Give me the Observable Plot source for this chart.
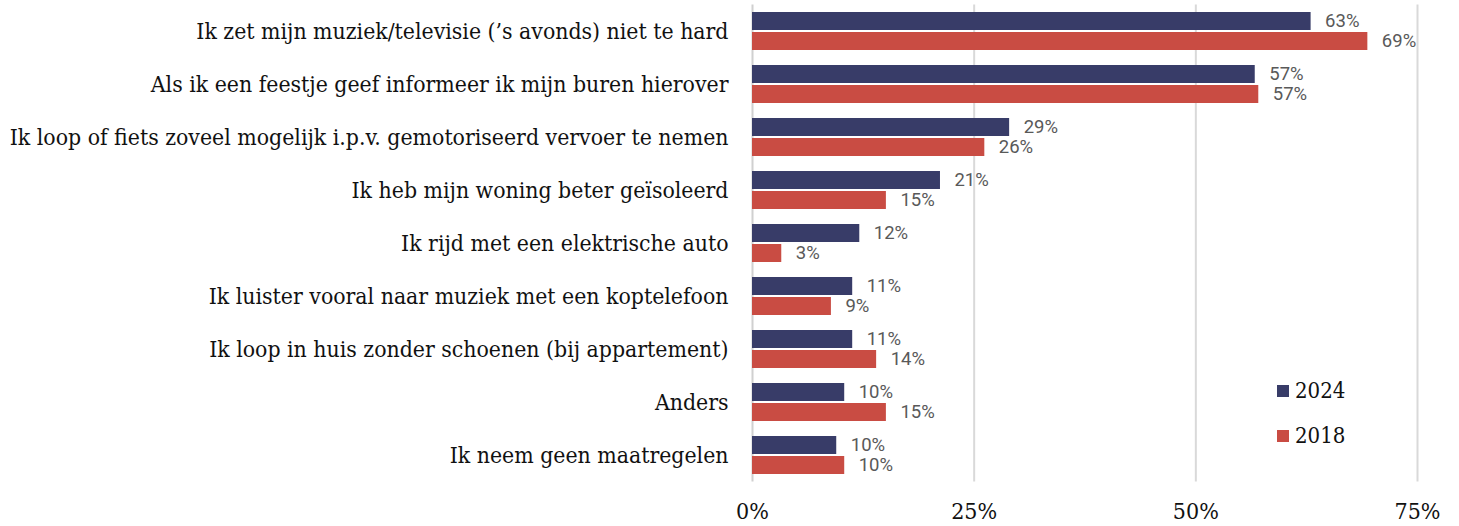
<!DOCTYPE html>
<html>
<head>
<meta charset="utf-8">
<script src="https://cdn.jsdelivr.net/npm/d3@7"></script>
<script src="https://cdn.jsdelivr.net/npm/@observablehq/plot@0.6"></script>
<style>
  html, body { margin: 0; padding: 0; background: #fff; }
  #wrap { position: relative; width: 1459px; height: 526px; }
  .legend { position: absolute; left: 1277px; font-family: "DejaVu Serif Condensed", "DejaVu Serif", serif; font-size: 22px; color: #111; display: flex; align-items: center; }
  .legend .sw { width: 12px; height: 12px; margin-right: 6px; }
</style>
</head>
<body>
<div id="wrap"></div>
<script>
const categories = [
  "Ik zet mijn muziek/televisie (’s avonds) niet te hard",
  "Als ik een feestje geef informeer ik mijn buren hierover",
  "Ik loop of fiets zoveel mogelijk i.p.v. gemotoriseerd vervoer te nemen",
  "Ik heb mijn woning beter geïsoleerd",
  "Ik rijd met een elektrische auto",
  "Ik luister vooral naar muziek met een koptelefoon",
  "Ik loop in huis zonder schoenen (bij appartement)",
  "Anders",
  "Ik neem geen maatregelen"
];
const values2024 = [63.0, 56.7, 29.0, 21.2, 12.1, 11.3, 11.3, 10.4, 9.5];
const values2018 = [69.4, 57.1, 26.2, 15.1, 3.3, 8.9, 14.0, 15.1, 10.4];
const seriesNames = ["2024", "2018"];
const seriesColors = ["#383c68", "#c94c43"];
const xTicks = [0, 25, 50, 75];

const data = categories.map((c, i) => ({cat: c, v2024: values2024[i], v2018: values2018[i]}));
const serif = "'DejaVu Serif Condensed', 'DejaVu Serif', serif";
const labelStyle = {fontFamily: "Roboto, sans-serif", fontSize: 18.5, fill: "#595959", textAnchor: "start", dx: 14};

const chart = Plot.plot({
  width: 1459,
  height: 526,
  marginLeft: 752,
  marginRight: 42,
  marginTop: 4.5,
  marginBottom: 44.5,
  style: {background: "#fff"},
  x: {domain: [0, 75], ticks: xTicks, tickFormat: d => d + "%"},
  y: {domain: categories, paddingInner: 0.283, paddingOuter: 0.1415, label: null},
  marks: [
    Plot.ruleX(xTicks.slice(1), {stroke: "#d9d9d9", strokeWidth: 2}),
    Plot.ruleX([0], {stroke: "#d0d0d0", strokeWidth: 2}),
    Plot.barX(data, {x: "v2024", y: "cat", fill: seriesColors[0], insetBottom: 20}),
    Plot.barX(data, {x: "v2018", y: "cat", fill: seriesColors[1], insetTop: 20}),
    Plot.text(data, {x: "v2024", y: "cat", dy: -10, text: d => Math.round(d.v2024) + "%", ...labelStyle}),
    Plot.text(data, {x: "v2018", y: "cat", dy: 10, text: d => Math.round(d.v2018) + "%", ...labelStyle}),
    Plot.axisX({ticks: xTicks, tickFormat: d => d + "%", tickSize: 0, tickPadding: 21, fontSize: 23, fontFamily: serif, fill: "#111", label: null}),
    Plot.axisY({tickSize: 0, tickPadding: 24, fontSize: 22.8, fontFamily: serif, fill: "#111", label: null})
  ]
});
const wrap = document.getElementById("wrap");
wrap.appendChild(chart);
seriesNames.forEach((s, i) => {
  const el = document.createElement("div");
  el.className = "legend";
  el.style.top = (378 + i * 45) + "px";
  el.innerHTML = `<span class="sw" style="background:${seriesColors[i]}"></span><span>${s}</span>`;
  wrap.appendChild(el);
});
</script>
</body>
</html>
